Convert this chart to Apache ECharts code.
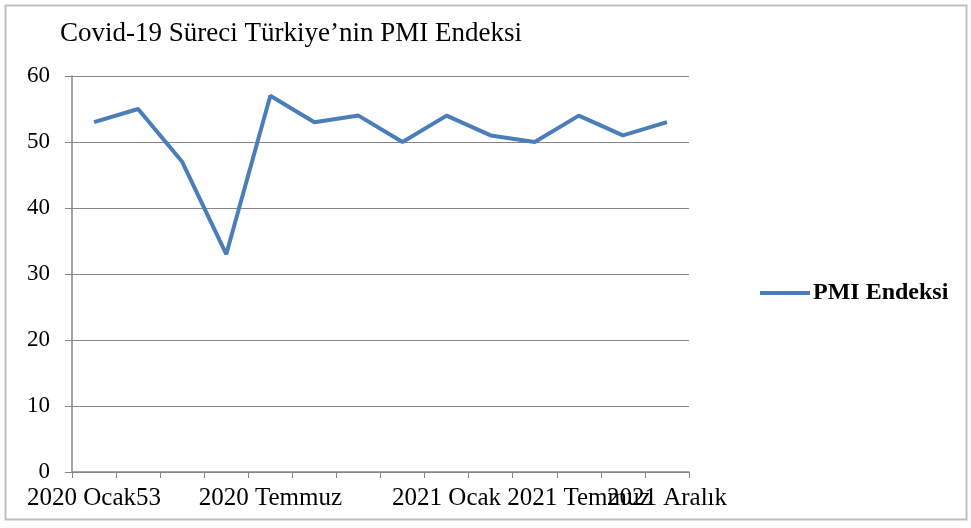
<!DOCTYPE html>
<html>
<head>
<meta charset="utf-8">
<script src="https://cdn.jsdelivr.net/npm/echarts@6/dist/echarts.min.js"></script>
<style>
  html, body { margin: 0; padding: 0; background: #fff; }
  #chart { width: 971px; height: 528px; }
</style>
</head>
<body>
<div id="chart"></div>
<script>
// PMI değerleri (14 dönem)
const categories = ['2020 Ocak53', '', '', '', '2020 Temmuz', '', '', '', '2021 Ocak', '', '', '2021 Temmuz', '', '2021 Aralık']
const pmiValues = [53, 55, 47, 33, 57, 53, 54, 50, 54, 51, 50, 54, 51, 53]
const seriesName = 'PMI Endeksi'
const titleText = 'Covid-19 Süreci Türkiye’nin PMI Endeksi'

const chart = echarts.init(document.getElementById('chart'))

const font = 'Liberation Serif, Times New Roman, serif'

const option = {
  animation: false,
  textStyle: { fontFamily: font },
  title: {
    text: titleText,
    left: 55,
    top: 15,
    textStyle: { fontFamily: font, fontSize: 27, fontWeight: 'normal', color: '#000' }
  },
  legend: {
    data: [seriesName],
    left: 755,
    top: 276,
    icon: 'rect',
    itemWidth: 50,
    itemHeight: 4,
    itemGap: 4,
    textStyle: { fontFamily: font, fontSize: 24, fontWeight: 'bold', color: '#000', padding: [0, 0, 0, -2] }
  },
  grid: {
    left: 72,
    right: 282,
    top: 76,
    bottom: 56,
    containLabel: false
  },
  xAxis: {
    type: 'category',
    data: categories,
    boundaryGap: true,
    axisLine: { lineStyle: { color: '#868686', width: 1.5 } },
    axisTick: { show: true, interval: 0, length: 6, lineStyle: { color: '#868686' } },
    axisLabel: {
      interval: 0,
      margin: 14,
      color: '#000',
      fontFamily: font,
      fontSize: 25,
      hideOverlap: false
    }
  },
  yAxis: {
    type: 'value',
    min: 0,
    max: 60,
    interval: 10,
    axisLine: { show: true, lineStyle: { color: '#868686', width: 1.5 } },
    axisTick: { show: true, inside: false, length: 7, lineStyle: { color: '#868686' } },
    axisLabel: { margin: 22, color: '#000', fontFamily: font, fontSize: 23 },
    splitLine: { lineStyle: { color: '#868686', width: 1.2 } }
  },
  series: [{
    name: seriesName,
    type: 'line',
    data: pmiValues,
    symbol: 'none',
    lineStyle: { color: '#4a7ebb', width: 4 },
    itemStyle: { color: '#4a7ebb' }
  }],
  graphic: [{
    type: 'rect',
    shape: { x: 5.5, y: 5.5, width: 961, height: 514 },
    style: { fill: 'none', stroke: '#bfbfbf', lineWidth: 2 },
    silent: true
  }]
}

chart.setOption(option)
</script>
</body>
</html>
